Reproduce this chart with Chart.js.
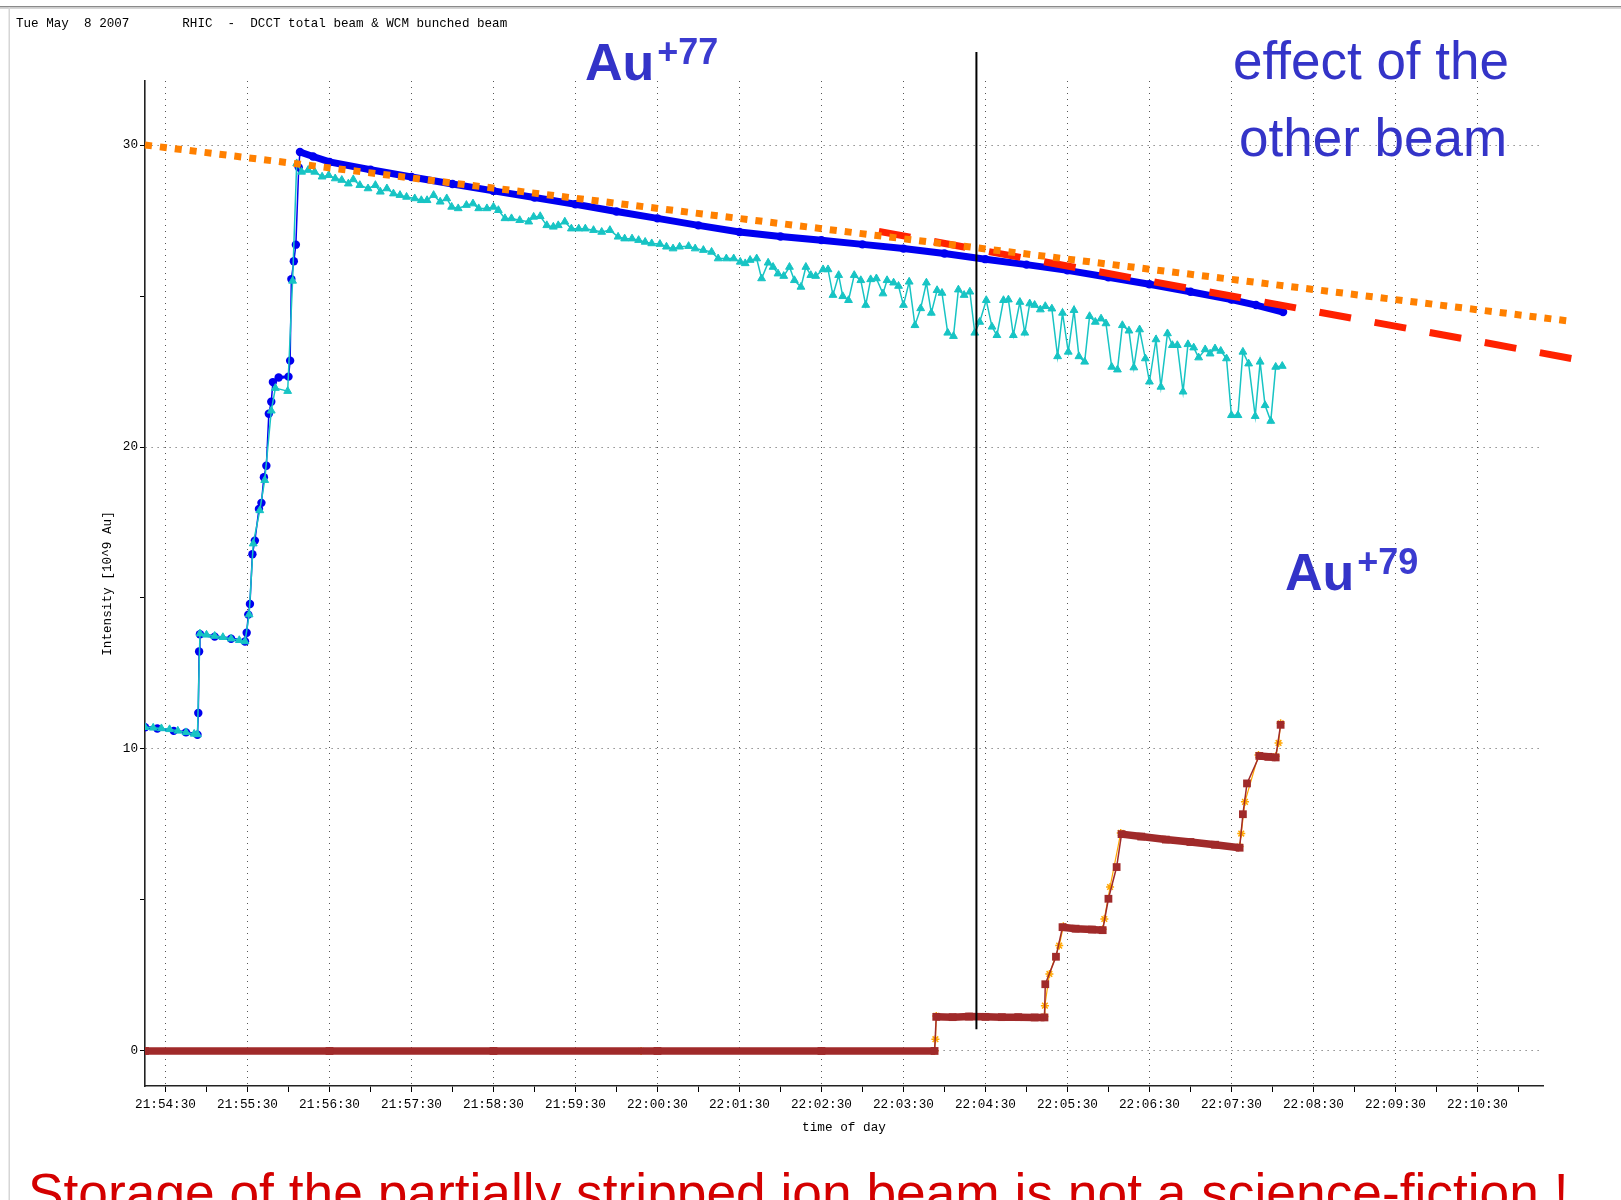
<!DOCTYPE html>
<html>
<head>
<meta charset="utf-8">
<title>RHIC - DCCT total beam &amp; WCM bunched beam</title>
<script src="https://cdn.jsdelivr.net/npm/chart.js@4.4.1/dist/chart.umd.min.js"></script>
<style>
  html, body { margin: 0; padding: 0; background: #fff; }
  #wrap { position: relative; width: 1621px; height: 1200px; overflow: hidden; }
</style>
</head>
<body>
<div id="wrap"><canvas id="beamChart" width="1621" height="1200"></canvas></div>
<script>
// x values are minutes after 21:54:30
const timeLabels = ["21:54:30", "21:55:30", "21:56:30", "21:57:30", "21:58:30", "21:59:30",
    "22:00:30", "22:01:30", "22:02:30", "22:03:30", "22:04:30", "22:05:30", "22:06:30",
    "22:07:30", "22:08:30", "22:09:30", "22:10:30"];
const yTickValues = [0, 5, 10, 15, 20, 25, 30];
const yLabelValues = [0, 10, 20, 30];

// DCCT total beam (Au+77)
const dcctTime = [-0.25, -0.1, 0.1, 0.25, 0.39, 0.40, 0.41, 0.42, 0.6, 0.8, 0.97, 0.99, 1.01, 1.03,
    1.06, 1.09, 1.14, 1.17, 1.20, 1.23, 1.26, 1.29, 1.31, 1.38, 1.50, 1.52, 1.535, 1.565, 1.59,
    1.625, 1.64, 1.8, 2.0, 2.5, 3.0, 3.5, 4.0, 4.5, 5.0, 5.5, 6.0, 6.5, 7.0, 7.5, 8.0, 8.5, 9.0,
    9.5, 10.0, 10.5, 11.0, 11.5, 12.0, 12.5, 13.0, 13.3, 13.63];
const dcctValue = [10.72, 10.68, 10.6, 10.55, 10.47, 11.19, 13.23, 13.8, 13.72, 13.65, 13.56, 13.85,
    14.45, 14.8, 16.45, 16.9, 17.95, 18.15, 19.0, 19.38, 21.1, 21.5, 22.15, 22.3, 22.33, 22.86,
    25.56, 26.15, 26.70, 29.26, 29.77, 29.62, 29.44, 29.18, 28.94, 28.71, 28.48, 28.26, 28.04,
    27.8, 27.57, 27.34, 27.12, 26.97, 26.85, 26.71, 26.57, 26.41, 26.22, 26.04, 25.85, 25.62,
    25.39, 25.14, 24.88, 24.7, 24.47];

// WCM bunched beam (Au+77)
const wcmTime = [-0.25, -0.15, -0.05, 0.05, 0.15, 0.25, 0.35, 0.39, 0.42, 0.5, 0.6, 0.7, 0.8, 0.9,
    0.97, 1.02, 1.07, 1.15, 1.21, 1.29, 1.34, 1.49, 1.55, 1.60,
    1.66, 1.74, 1.82, 1.91, 1.99, 2.07, 2.15, 2.23, 2.29, 2.37, 2.47, 2.56, 2.62, 2.70, 2.78, 2.86,
    2.94, 3.04, 3.12, 3.19, 3.27, 3.35, 3.43, 3.49, 3.57, 3.67, 3.75, 3.82, 3.92, 4.00, 4.06, 4.14,
    4.22, 4.32, 4.43, 4.49, 4.57, 4.65, 4.73, 4.79, 4.87, 4.95, 5.04, 5.12, 5.22, 5.32, 5.42, 5.52,
    5.60, 5.69, 5.77, 5.85, 5.93, 6.03, 6.11, 6.19, 6.27, 6.38, 6.46, 6.56, 6.66, 6.74, 6.84, 6.93,
    7.01, 7.07, 7.13, 7.21, 7.27, 7.35, 7.41, 7.47, 7.54, 7.61, 7.67, 7.75, 7.81, 7.87, 7.93, 8.02,
    8.08, 8.14, 8.21, 8.26, 8.33, 8.40, 8.48, 8.54, 8.60, 8.67, 8.75, 8.80, 8.88, 8.94, 9.00, 9.07,
    9.14, 9.21, 9.28, 9.34, 9.41, 9.47, 9.54, 9.61, 9.67, 9.74, 9.81, 9.87, 9.93, 10.01, 10.08, 10.14,
    10.22, 10.28, 10.34, 10.42, 10.48, 10.54, 10.60, 10.67, 10.73, 10.81, 10.88, 10.94, 11.01, 11.08,
    11.14, 11.21, 11.27, 11.34, 11.41, 11.47, 11.54, 11.61, 11.67, 11.75, 11.81, 11.88, 11.95, 12.00,
    12.08, 12.14, 12.22, 12.28, 12.34, 12.41, 12.47, 12.54, 12.60, 12.68, 12.74, 12.80, 12.87, 12.94,
    13.00, 13.08, 13.14, 13.21, 13.29, 13.35, 13.41, 13.48, 13.54, 13.62];
const wcmValue = [10.72, 10.70, 10.68, 10.65, 10.60, 10.55, 10.50, 10.48, 13.82, 13.78, 13.74, 13.70,
    13.65, 13.60, 13.56, 14.45, 16.80, 17.90, 18.90, 21.20, 21.95, 21.85, 25.50, 29.39,
    29.11, 29.17, 29.11, 28.95, 29.00, 28.89, 28.84, 28.72, 28.86, 28.67, 28.56, 28.67, 28.45, 28.56,
    28.39, 28.34, 28.28, 28.23, 28.17, 28.17, 28.34, 28.12, 28.23, 27.95, 27.90, 28.01, 28.06, 27.90,
    27.90, 27.95, 27.84, 27.57, 27.57, 27.51, 27.46, 27.62, 27.64, 27.34, 27.29, 27.34, 27.46, 27.23,
    27.23, 27.23, 27.18, 27.12, 27.18, 26.96, 26.90, 26.90, 26.85, 26.79, 26.74, 26.72, 26.63, 26.57,
    26.63, 26.65, 26.57, 26.52, 26.46, 26.24, 26.24, 26.24,
    26.13, 26.08, 26.19, 26.24, 25.58, 26.10, 25.96, 25.74, 25.66, 25.96, 25.52, 25.30, 25.96, 25.69,
    25.66, 25.88, 25.88, 25.03, 25.69, 24.99, 24.86, 25.69, 25.52, 24.70, 25.55, 25.58, 25.08, 25.52,
    25.44, 25.33, 24.70, 25.47, 24.03, 24.59, 25.44, 24.44, 25.19, 25.10, 23.78, 23.67, 25.21, 25.03,
    25.14, 23.78, 24.14, 24.86, 23.98, 23.70,
    24.86, 24.88, 23.70, 24.80, 23.78, 24.75, 24.70, 24.55, 24.66, 24.58, 23.00, 24.44, 23.15, 24.53,
    23.00, 22.82, 24.33, 24.14, 24.25, 24.09, 22.65, 22.56, 24.03, 23.85, 22.63, 23.89, 22.93, 22.16,
    23.56, 21.99, 23.76, 23.37, 23.37, 21.83, 23.40, 23.29, 22.96, 23.23, 23.09, 23.26, 23.18, 22.93,
    21.05, 21.05, 23.15, 22.76, 21.02, 22.82, 21.38, 20.86, 22.65, 22.68];

// Au+79 beam: DCCT (squares) and WCM (stars)
const au79Time = [-0.25, 2, 4, 6, 8, 9.38, 9.40, 9.6, 9.8, 10.0, 10.2, 10.4, 10.6, 10.72, 10.73,
    10.86, 10.94, 11.1, 11.3, 11.43, 11.50, 11.60, 11.66, 11.9, 12.2, 12.5, 12.8, 13.10, 13.14,
    13.19, 13.34, 13.45, 13.54, 13.60];
const au79Value = [0, 0, 0, 0, 0, 0, 1.13, 1.12, 1.14, 1.13, 1.12, 1.12, 1.11, 1.11, 2.21, 3.12,
    4.10, 4.05, 4.02, 4.0, 5.04, 6.09, 7.18, 7.1, 7.0, 6.92, 6.83, 6.73, 7.84, 8.86, 9.77, 9.74,
    9.72, 10.8];
const au79wcmTime = [-0.25, 5.80, 9.38, 9.39, 9.40, 10.72, 10.725, 10.78, 10.90, 10.95, 11.43, 11.45,
    11.52, 11.65, 13.10, 13.12, 13.165, 13.33, 13.54, 13.575, 13.60];
const au79wcmValue = [0, 0, 0, 0.39, 1.16, 1.14, 1.5, 2.55, 3.49, 4.13, 4.03, 4.37, 5.43, 7.22,
    6.77, 7.2, 8.25, 9.8, 9.76, 10.2, 10.85];

// hand-drawn overlays
const fitTime = [-0.25, 17.09];
const fitValue = [30.0, 24.18];
const otherBeamTime = [8.70, 17.15];
const otherBeamValue = [27.14, 22.93];
const markerTime = [9.89, 9.89];
const markerValue = [33.08, 0.72];

const pts = (xs, ys) => xs.map((x, i) => ({ x: x, y: ys[i] }));
const dcctPeak = dcctValue.indexOf(Math.max(...dcctValue));
const isFlat = c => Math.abs(c.p1.parsed.y - c.p0.parsed.y) < 0.3;

const monoFont = "'Liberation Mono', 'DejaVu Sans Mono', monospace";
const sansFont = "'Liberation Sans', Arial, sans-serif";

const slideDecor = {
    id: "slideDecor",
    beforeDraw(chart) {
        const c = chart.ctx;
        c.save();
        c.fillStyle = "#fff";
        c.fillRect(0, 0, chart.width, chart.height);
        c.fillStyle = "#8a8a8a";
        c.fillRect(0, 6, chart.width, 1.5);
        c.fillStyle = "#d6d6d6";
        c.fillRect(0, 7.5, chart.width, 1.5);
        c.fillRect(8.5, 7, 1.5, chart.height);
        c.restore();
    },
    afterDraw(chart) {
        const c = chart.ctx;
        c.save();
        c.textBaseline = "alphabetic";
        c.textAlign = "left";

        c.fillStyle = "#000";
        c.font = "12.6px " + monoFont;
        c.fillText("Tue May  8 2007       RHIC  -  DCCT total beam & WCM bunched beam", 16, 27);

        const ionLabel = (x, y, sup) => {
            c.fillStyle = "#3333c8";
            c.font = "bold 52px " + sansFont;
            c.fillText("Au", x, y);
            const w = c.measureText("Au").width;
            c.font = "bold 36px " + sansFont;
            c.fillStyle = "#3b3bd0";
            c.fillText(sup, x + w + 3, y - 16);
        };
        ionLabel(585, 79.5, "+77");
        ionLabel(1285, 590, "+79");

        c.fillStyle = "#3434c8";
        c.font = "53px " + sansFont;
        c.fillText("effect of the", 1233, 79);
        c.fillText("other beam", 1239, 156);

        c.fillStyle = "#d40000";
        c.font = "53.3px " + sansFont;
        c.fillText("Storage of the partially stripped ion beam is not a science-fiction !", 28, 1211);
        c.restore();
    }
};

const ctx = document.getElementById("beamChart").getContext("2d");
const beamChart = new Chart(ctx, {
    type: "line",
    data: {
        datasets: [
            {
                label: "fit",
                data: pts(fitTime, fitValue),
                borderColor: "#ff8000",
                borderWidth: 7,
                borderDash: [7, 8],
                borderCapStyle: "butt",
                pointRadius: 0,
                clip: false,
                order: 0
            },
            {
                label: "with other beam",
                data: pts(otherBeamTime, otherBeamValue),
                borderColor: "#ff2200",
                borderWidth: 7,
                borderDash: [32, 24],
                borderCapStyle: "butt",
                pointRadius: 0,
                clip: false,
                order: 1
            },
            {
                label: "marker",
                data: pts(markerTime, markerValue),
                borderColor: "#000",
                borderWidth: 2,
                pointRadius: 0,
                clip: false,
                order: 2
            },
            {
                label: "WCM bunched beam",
                data: pts(wcmTime, wcmValue),
                borderColor: "#17c4c4",
                backgroundColor: "#17c4c4",
                borderWidth: 1.5,
                pointStyle: "triangle",
                pointRadius: 4.5,
                pointBorderWidth: 1,
                order: 3
            },
            {
                label: "DCCT total beam",
                data: pts(dcctTime, dcctValue),
                borderColor: "#0000f0",
                backgroundColor: "#0000f0",
                pointStyle: "circle",
                pointRadius: 4.2,
                pointBorderWidth: 0,
                borderWidth: 1.5,
                segment: {
                    borderWidth: c => c.p0DataIndex >= dcctPeak ? 7 : (isFlat(c) ? 3 : 1.5)
                },
                order: 4
            },
            {
                label: "Au+79 DCCT",
                data: pts(au79Time, au79Value),
                borderColor: "#a02a2a",
                backgroundColor: "#a02a2a",
                pointStyle: "rect",
                pointRadius: 5.5,
                pointBorderWidth: 0,
                borderWidth: 1.5,
                segment: {
                    borderWidth: c => isFlat(c) ? 7.5 : 1.5
                },
                order: 5
            },
            {
                label: "Au+79 WCM",
                data: pts(au79wcmTime, au79wcmValue),
                borderColor: "#ffa500",
                backgroundColor: "#ffa500",
                pointStyle: "star",
                pointRadius: 4,
                pointBorderWidth: 1.5,
                borderWidth: 1.2,
                order: 6
            }
        ]
    },
    options: {
        responsive: false,
        animation: false,
        devicePixelRatio: 1,
        events: [],
        layout: { padding: { left: 95, right: 78, top: 81, bottom: 65 } },
        plugins: {
            legend: { display: false },
            tooltip: { enabled: false }
        },
        elements: { line: { tension: 0 } },
        scales: {
            x: {
                type: "linear",
                min: -0.25,
                max: 16.8,
                afterFit: s => { s.height = 49; },
                afterBuildTicks: s => {
                    const t = [];
                    timeLabels.forEach((lab, i) => { t.push({ value: i }); t.push({ value: i + 0.5 }); });
                    s.ticks = t;
                },
                ticks: {
                    autoSkip: false,
                    maxRotation: 0,
                    minRotation: 0,
                    padding: 5,
                    color: "#000",
                    font: { family: monoFont, size: 12.7 },
                    callback: v => Number.isInteger(v) ? timeLabels[v] : ""
                },
                grid: {
                    color: c => Number.isInteger(c.tick.value) ? "#555" : "rgba(0,0,0,0)",
                    lineWidth: 1,
                    tickColor: "#000",
                    tickLength: 6,
                    tickWidth: 1,
                    tickBorderDash: []
                },
                border: { display: true, color: "#222", width: 1.6, dash: [1, 5] },
                title: {
                    display: true,
                    text: "time of day",
                    color: "#000",
                    padding: { top: 0, bottom: 0 },
                    font: { family: monoFont, size: 12.7 }
                }
            },
            y: {
                type: "linear",
                min: -1.16,
                max: 32.12,
                afterFit: s => { s.width = 50; },
                afterBuildTicks: s => { s.ticks = yTickValues.map(v => ({ value: v })); },
                ticks: {
                    padding: 2,
                    color: "#000",
                    font: { family: monoFont, size: 12.7 },
                    callback: v => yLabelValues.includes(v) ? String(v) : ""
                },
                grid: {
                    color: c => yLabelValues.includes(c.tick.value) ? "#555" : "rgba(0,0,0,0)",
                    lineWidth: 1,
                    tickColor: "#000",
                    tickLength: 5,
                    tickWidth: 1,
                    tickBorderDash: []
                },
                border: { display: true, color: "#222", width: 1.6, dash: [1, 5] },
                title: {
                    display: true,
                    text: "Intensity [10^9 Au]",
                    color: "#000",
                    padding: { top: 5, bottom: 0 },
                    font: { family: monoFont, size: 12.7 }
                }
            }
        }
    },
    plugins: [slideDecor]
});
</script>
</body>
</html>
